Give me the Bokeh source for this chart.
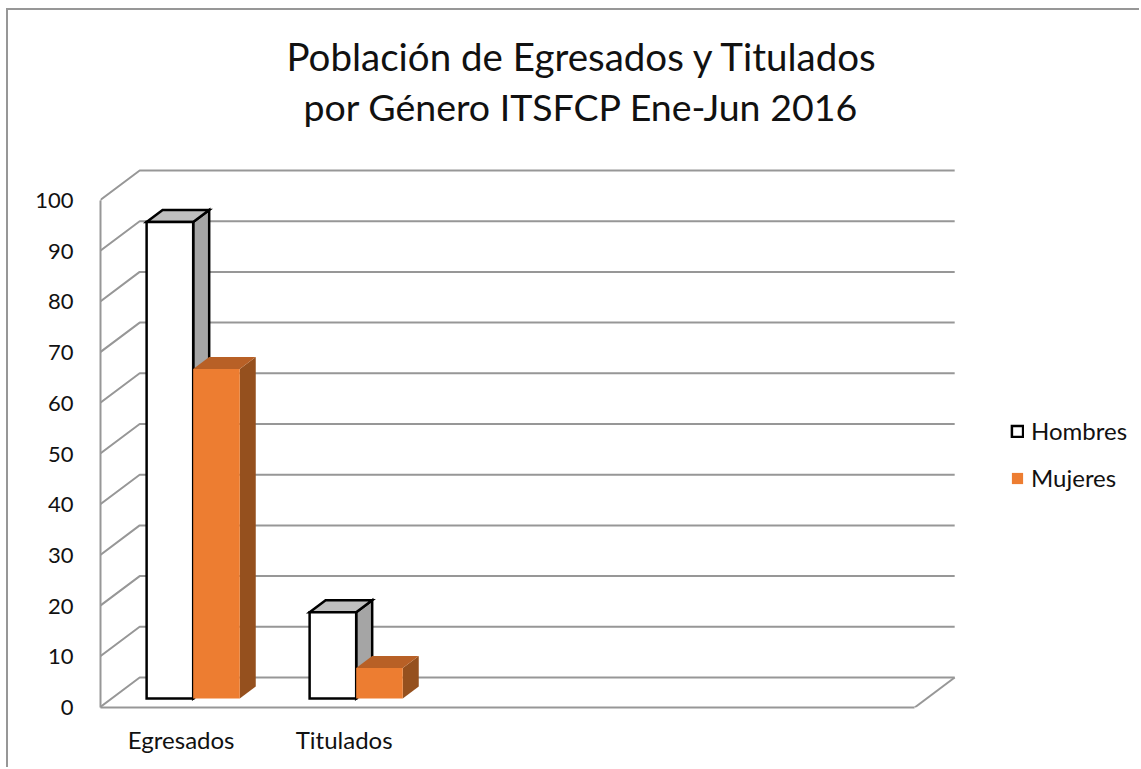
from bokeh.embed import file_html
from bokeh.resources import INLINE
from bokeh.plotting import figure
from bokeh.models import (ColumnDataSource, FixedTicker, Legend, LegendItem,
                          Range1d, Title)

categories = ["Egresados", "Titulados"]
hombres = [94, 17]
mujeres = [65, 6]
y_ticks = [0, 10, 20, 30, 40, 50, 60, 70, 80, 90, 100]
title_lines = ["Población de Egresados y Titulados", "por Género ITSFCP Ene-Jun 2016"]
n_slots = 5

FONT = "Lato"
GRID = "#979797"
PX_X = 163.0      # pixels per category
PX_Y = 5.07       # pixels per value unit
OX, OY = 8, 10     # page position of the canvas
LEFT, RIGHT, TOP, BOTTOM = 100 - OX, 1141 - OX, 131 - OY, 707 - OY
W, H = 1141 - OX, 769 - OY
WALL_X = 40 / PX_X
WALL_Y = 30 / PX_Y
BAR_W = 1 / 3.5
FRONT, BACK = 0.3, 0.7

p = figure(width=W, height=H, output_backend="svg", toolbar_location=None,
           x_range=Range1d(0.005, 0.005 + (RIGHT - LEFT) / PX_X),
           y_range=Range1d(0, (BOTTOM - TOP) / PX_Y),
           min_border_left=LEFT, min_border_right=0,
           min_border_top=TOP, min_border_bottom=H - BOTTOM,
           outline_line_color=None, background_fill_color="white",
           border_fill_color="white")
p.margin = (8, 0, 0, 6)
p.styles = {"border-left": "2px solid #979797", "border-top": "2px solid #979797"}
p.grid.visible = False

p.add_layout(Title(text=title_lines[1], align="left", offset=203, text_font=FONT,
                   text_font_size="37.5px", text_font_style="normal", text_color="#111111",
                   standoff=6), "above")
p.add_layout(Title(text=title_lines[0], align="left", offset=186, text_font=FONT,
                   text_font_size="38.5px", text_font_style="normal", text_color="#111111",
                   standoff=0), "above")

# walls and floor
wall_x, wall_y = [], []
for t in y_ticks:
    wall_x.append([0, WALL_X, n_slots + WALL_X])
    wall_y.append([t, t + WALL_Y, t + WALL_Y])
wall_x.append([n_slots, n_slots + WALL_X])
wall_y.append([0, WALL_Y])
p.multi_line(wall_x, wall_y, line_color=GRID, line_width=2)


def draw_series(values, shift, front_color, top_color, side_color, outline):
    lefts = [i + 0.5 + shift * BAR_W + FRONT * WALL_X for i in range(len(values))]
    rights = [l + BAR_W for l in lefts]
    base = FRONT * WALL_Y
    depth_x = (BACK - FRONT) * WALL_X
    depth_y = (BACK - FRONT) * WALL_Y
    tops = [v + base for v in values]
    line = dict(line_color=outline, line_width=2.5 if outline else 0, line_join="miter")
    p.patches([[r, r + depth_x, r + depth_x, r] for r in rights],
              [[t, t + depth_y, base + depth_y, base] for t in tops],
              fill_color=side_color, **line)
    p.patches([[l, l + depth_x, r + depth_x, r] for l, r in zip(lefts, rights)],
              [[t, t + depth_y, t + depth_y, t] for t in tops],
              fill_color=top_color, **line)
    src = ColumnDataSource(dict(left=lefts, right=rights, top=tops, bottom=[base] * len(tops)))
    return p.quad(left="left", right="right", top="top", bottom="bottom", source=src,
                  fill_color=front_color, **line)


r_h = draw_series(hombres, -1, "#ffffff", "#bfbfbf", "#a5a5a5", "#000000")
r_m = draw_series(mujeres, 0, "#ed7d31", "#b86026", "#95501e", None)

# axes
ya = p.yaxis[0]
ya.ticker = FixedTicker(ticks=y_ticks)
ya.bounds = (0, 100)
ya.axis_line_color = GRID
ya.axis_line_width = 2
ya.major_tick_line_color = None
ya.minor_tick_line_color = None
ya.major_label_text_font = FONT
ya.major_label_text_font_size = "22px"
ya.major_label_text_color = "#111111"
ya.major_label_standoff = 21

xa = p.xaxis[0]
centers = [i + 0.5 for i in range(len(categories))]
xa.ticker = FixedTicker(ticks=centers)
xa.major_label_overrides = dict(zip(centers, categories))
xa.bounds = (0.005, n_slots)
xa.axis_line_color = GRID
xa.axis_line_width = 2
xa.major_tick_line_color = None
xa.minor_tick_line_color = None
xa.major_label_text_font = FONT
xa.major_label_text_font_size = "24px"
xa.major_label_text_color = "#111111"
xa.major_label_standoff = 11

legend = Legend(items=[LegendItem(label="Hombres", renderers=[r_h]),
                       LegendItem(label="Mujeres", renderers=[r_m])],
                location=(1010 - OX - LEFT, 707 - 492), orientation="vertical",
                border_line_color=None, background_fill_alpha=0,
                glyph_width=14, glyph_height=14, label_standoff=7, spacing=18,
                padding=0, margin=0,
                label_text_font=FONT, label_text_font_size="24px", label_text_color="#111111")
p.add_layout(legend)

open("out.html", "w").write(file_html(p, INLINE))
